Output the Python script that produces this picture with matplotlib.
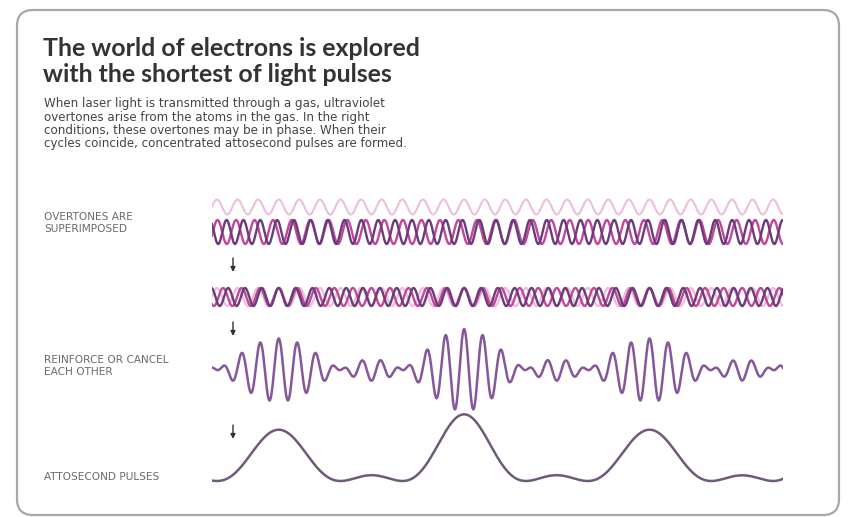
"""
Attosecond pulses: overtones superimpose, reinforce or cancel, and form short pulses.
"""

import numpy as np
import matplotlib.pyplot as plt
from matplotlib.patches import FancyBboxPatch

plt.rcParams['font.family'] = ['Lato', 'DejaVu Sans']

# ----- Data -----
title_lines = ["The world of electrons is explored", "with the shortest of light pulses"]
intro_lines = [
    "When laser light is transmitted through a gas, ultraviolet",
    "overtones arise from the atoms in the gas. In the right",
    "conditions, these overtones may be in phase. When their",
    "cycles coincide, concentrated attosecond pulses are formed.",
]
step_labels = ["OVERTONES ARE\nSUPERIMPOSED", "REINFORCE OR CANCEL\nEACH OTHER", "ATTOSECOND PULSES"]

# overtone orders (multiples of the pulse repetition frequency)
overtone_orders = [9, 10, 11]
overtone_colors = ['#ecbfdc', '#c2479a', '#6b3c7c']
# phases before (row 1) and after (row 2) they line up
phases_random = [0.0, 1.9, 0.6]
phases_aligned = [0.0, 0.0, 0.0]
# relative heights of the three attosecond pulses
pulse_heights = [1.0, 1.3, 1.0]
t_start, t_end = -0.36, 2.72

# ----- Layout (figure pixels) -----
W, H = 849, 517
fig = plt.figure(figsize=(W / 100, H / 100), dpi=100)
bg = fig.add_axes([0, 0, 1, 1])
bg.set_xlim(0, W); bg.set_ylim(H, 0); bg.axis('off')
bg.add_patch(FancyBboxPatch((17, 10), 822, 505, boxstyle="round,pad=0,rounding_size=16",
                            fc='white', ec='#a8a8a8', lw=1.6))

ty = 48
for line in title_lines:
    bg.text(43, ty, line, fontsize=17.9, fontweight='bold', color='#333333', va='center')
    ty += 27
iy = 104
for line in intro_lines:
    bg.text(44, iy, line, fontsize=8.6, family='DejaVu Sans', color='#444444', va='center')
    iy += 13.2

for lab, y in zip(step_labels, [223, 366, 477]):
    bg.text(44, y, lab, fontsize=7.6, family='DejaVu Sans', color='#6a6a6a', va='center',
            linespacing=1.35)

# wave area: x in pulse periods, y in pixels (inverted)
x0, x1 = 212, 783
ax = fig.add_axes([x0 / W, 0, (x1 - x0) / W, 1])
ax.set_xlim(t_start, t_end); ax.set_ylim(H, 0); ax.axis('off')

t = np.linspace(t_start, t_end, 4000)
w = 2 * np.pi * t

# row 1: lightest overtone on its own line, the other two overlapping below
ax.plot(t, 207 - 7.5 * np.cos(overtone_orders[0] * w + phases_random[0]),
        color=overtone_colors[0], lw=1.5)
for n, ph, c in zip(overtone_orders[1:], phases_random[1:], overtone_colors[1:]):
    ax.plot(t, 232 - 12 * np.cos(n * w + ph), color=c, lw=1.7)

# row 2: all three overtones superimposed
for n, ph, c in zip(overtone_orders, phases_aligned, overtone_colors):
    ax.plot(t, 297 - 9 * np.cos(n * w + ph), color=c, lw=1.7)

# row 3: sum of overtones
field = sum(np.cos(n * w + ph) for n, ph in zip(overtone_orders, phases_aligned))
env = np.ones_like(t)
for k, h in enumerate(pulse_heights):
    env += (h - 1) * np.exp(-((t - k) / 0.3) ** 2)
ax.plot(t, 370 - 10.5 * env * field, color='#86579a', lw=1.8)

# row 4: intensity -> attosecond pulses
intensity = np.abs(sum(np.exp(1j * (n * w + ph)) for n, ph in zip(overtone_orders, phases_aligned))) ** 2
ax.plot(t, 481 - 5.7 * env * intensity, color='#6f5a78', lw=1.8)

# arrows between steps
xa = t_start + (233 - x0) / (x1 - x0) * (t_end - t_start)
for ya in [258, 322, 425]:
    ax.annotate('', xy=(xa, ya + 14), xytext=(xa, ya),
                arrowprops=dict(arrowstyle='-|>', color='#333333', lw=1.0,
                                mutation_scale=7, shrinkA=0, shrinkB=0))

fig.savefig('out.png', dpi=100)
